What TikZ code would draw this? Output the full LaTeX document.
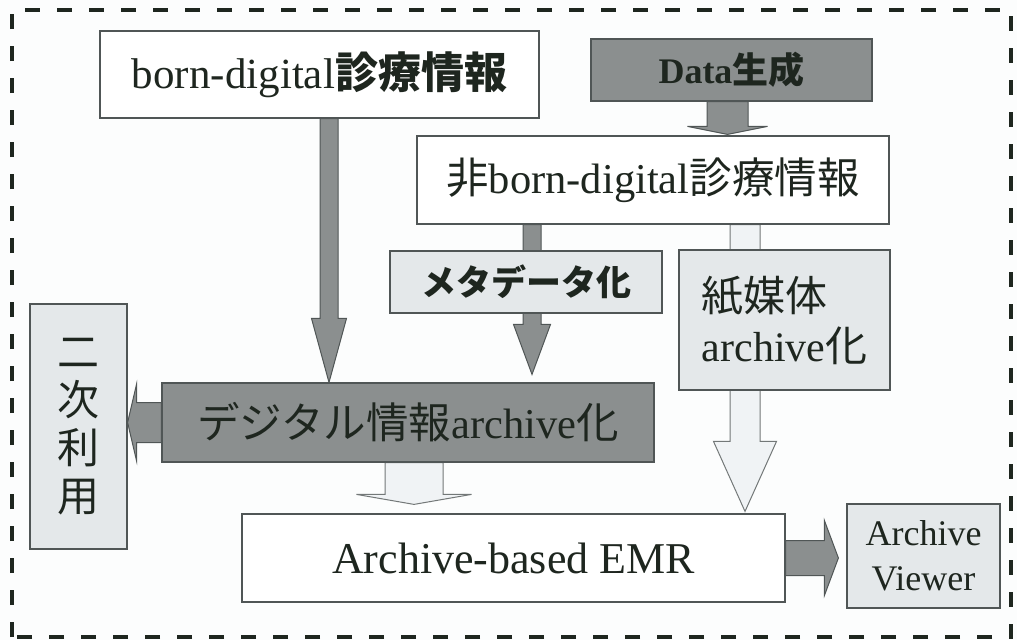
\documentclass[tikz,border=0pt]{standalone}
\usepackage{fontspec}
\setmainfont{Liberation Serif}
\newfontfamily\jp{Noto Sans CJK JP}
\usetikzlibrary{calc}
\pgfdeclarelayer{back}
\pgfdeclarelayer{bg}
\pgfsetlayers{back,bg,main}
\definecolor{darkfill}{HTML}{8B8F8F}
\definecolor{lightfill}{HTML}{E4E8EA}
\definecolor{edge}{HTML}{505656}
\definecolor{ink}{HTML}{1E261F}
\definecolor{paperbg}{HTML}{FCFDFD}
\definecolor{whitearrowfill}{HTML}{F0F3F5}
\newcommand\vblockarrow[6]{%
  \path[#1] let \p1=(#2), \p2=(#3) in
   ({\x1-#4pt},\y1) -- ({\x1+#4pt},\y1) -- ({\x1+#4pt},{\y2+#6pt}) --
   ({\x1+#5pt},{\y2+#6pt}) -- (\x1,\y2) -- ({\x1-#5pt},{\y2+#6pt}) --
   ({\x1-#4pt},{\y2+#6pt}) -- cycle;}
\newcommand\hblockarrow[7]{%
  \path[#1] let \p1=(#2), \p2=(#3) in
   (\x1,{\y1-#4pt}) -- (\x1,{\y1+#4pt}) -- ({\x2+#7*#6pt},{\y1+#4pt}) --
   ({\x2+#7*#6pt},{\y1+#5pt}) -- (\x2,\y1) -- ({\x2+#7*#6pt},{\y1-#5pt}) --
   ({\x2+#7*#6pt},{\y1-#4pt}) -- cycle;}
\tikzset{
  box/.style={draw=edge, line width=1.2pt, inner sep=0pt, text=ink, anchor=center},
  whitebox/.style={box, fill=white},
  darkbox/.style={box, fill=darkfill},
  lightbox/.style={box, fill=lightfill},
  grayarrow/.style={fill=darkfill, draw=edge, line width=1pt},
  whitearrow/.style={fill=whitearrowfill, draw=edge!80, line width=1pt},
  frame/.style={draw=ink, line width=3.5pt, dash pattern=on 15pt off 17pt}
}
\begin{document}
\begin{tikzpicture}[x=1pt,y=-1pt]
\useasboundingbox (0,0) rectangle (1017,640);
\begin{pgfonlayer}{back}
\fill[paperbg] (0,0) rectangle (1017,640);
\draw[frame] (12,637) -- (12,10) -- (1011,10) -- (1011,637) -- cycle;
\end{pgfonlayer}

\node[whitebox, minimum width=439pt, minimum height=87pt,
  font=\fontsize{43}{48}\selectfont] (born) at (319.5,74.5)
  {born-digital{\jp\bfseries 診療情報}};
\node[darkbox, minimum width=281pt, minimum height=62pt,
  font=\fontsize{36}{40}\selectfont\bfseries] (data) at (731.5,70)
  {Data{\jp 生成}};
\node[whitebox, minimum width=472pt, minimum height=88pt,
  font=\fontsize{42.5}{48}\selectfont] (nonborn) at (653,180)
  {{\jp 非}born-digital{\jp 診療情報}};
\node[lightbox, minimum width=272pt, minimum height=62pt,
  font=\fontsize{35}{40}\selectfont\jp\bfseries] (meta) at (526,282)
  {メタデータ化};
\node[lightbox, minimum width=211pt, minimum height=140pt, align=left,
  font=\fontsize{42}{50}\selectfont] (paper) at (784.5,320)
  {{\jp 紙媒体}\\archive{\jp 化}};
\node[darkbox, minimum width=492pt, minimum height=79pt,
  font=\fontsize{42.5}{48}\selectfont] (digi) at (408,422.5)
  {{\jp デジタル情報}archive{\jp 化}};
\node[lightbox, minimum width=97pt, minimum height=245pt, align=center,
  font=\fontsize{42}{48}\selectfont\jp] (niji) at (78.5,426.5)
  {二\\次\\利\\用};
\node[whitebox, minimum width=543pt, minimum height=88pt,
  font=\fontsize{44}{48}\selectfont] (emr) at (513.5,558)
  {Archive-based EMR};
\node[lightbox, minimum width=153pt, minimum height=104pt, align=center,
  font=\fontsize{36}{45}\selectfont] (viewer) at (923.5,556)
  {Archive\\Viewer};

\begin{pgfonlayer}{bg}
\vblockarrow{grayarrow}{$(data.south)+(-4,0)$}{$(nonborn.north)+(0,-1)$}{20.5}{40}{8}
\vblockarrow{grayarrow}{$(born.south)+(9.5,0)$}{digi.north}{9}{17.5}{64}
\vblockarrow{grayarrow}{$(nonborn.south)+(-121,0)$}{$(digi.north)+(0,-8)$}{9}{18.5}{50}
\vblockarrow{whitearrow}{$(nonborn.south)+(92,0)$}{$(emr.north)+(0,-2)$}{15}{31.5}{70}
\vblockarrow{whitearrow}{$(digi.south)+(6,0)$}{$(emr.north)+(0,-9)$}{29}{57.5}{10}
\hblockarrow{grayarrow}{digi.west}{niji.east}{20}{38.5}{9}{1}
\hblockarrow{grayarrow}{emr.east}{$(viewer.west)+(-8,0)$}{17.5}{37.5}{14}{-1}
\end{pgfonlayer}
\end{tikzpicture}
\end{document}
